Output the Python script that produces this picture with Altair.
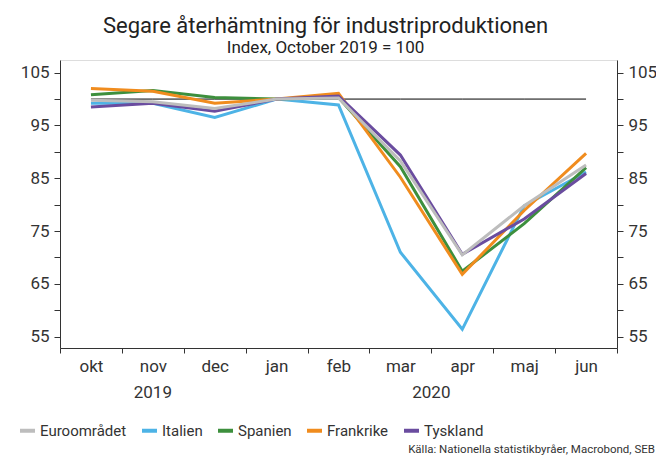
import altair as alt
import pandas as pd

months = ["okt", "nov", "dec", "jan", "feb", "mar", "apr", "maj", "jun"]
series_names = ["Euroområdet", "Italien", "Spanien", "Frankrike", "Tyskland"]
colors = ["#bdbdbd", "#4db3e6", "#3d8f3d", "#f08c1e", "#6a4c9f"]

euro = [99.8, 99.5, 98.2, 100.0, 100.2, 88.3, 70.5, 79.8, 87.5]
italien = [99.2, 99.2, 96.5, 100.0, 98.9, 71.0, 56.4, 79.8, 86.2]
spanien = [100.8, 101.6, 100.3, 100.0, 100.3, 87.2, 67.4, 76.4, 87.0]
frankrike = [102.0, 101.5, 99.2, 100.0, 101.1, 85.2, 66.8, 78.9, 89.7]
tyskland = [98.5, 99.2, 97.7, 100.0, 100.6, 89.4, 70.6, 77.3, 85.9]
reference = [100] * 9

years = ["2019", "2020"]
year_month = ["nov", "mar"]

title = "Segare återhämtning för industriproduktionen"
subtitle = "Index, October 2019 = 100"
source = "Källa: Nationella statistikbyråer, Macrobond, SEB"

FONT = "Roboto"
TXT = "#333333"

values_by_series = {
    "Euroområdet": euro,
    "Italien": italien,
    "Spanien": spanien,
    "Frankrike": frankrike,
    "Tyskland": tyskland,
}
draw_order = ["Italien", "Spanien", "Frankrike", "Tyskland", "Euroområdet"]
rows = []
for s in draw_order:
    for m, v in zip(months, values_by_series[s]):
        rows.append({"month": m, "series": s, "value": v})
df = pd.DataFrame(rows)
ref_df = pd.DataFrame({"month": months, "value": reference})

W, H = 557, 288
ydom = [52.86, 107.4]
tick_vals = [55, 60, 65, 70, 75, 80, 85, 90, 95, 100, 105]
label_expr = "datum.value % 10 == 5 ? datum.label : ''"

xenc = alt.X(
    "month:N",
    sort=months,
    scale=alt.Scale(domain=months, paddingInner=0, paddingOuter=0),
    axis=alt.Axis(
        title=None, tickBand="extent", labelAngle=0, labelFontSize=17,
        labelFont=FONT, labelColor=TXT, labelPadding=5, tickSize=5,
        domainColor=TXT, tickColor=TXT, grid=False,
    ),
)

def yaxis(orient):
    return alt.Axis(
        orient=orient, title=None, values=tick_vals, labelExpr=label_expr,
        labelFontSize=17, labelFont=FONT, labelColor=TXT, tickSize=6,
        labelPadding=5, domainColor=TXT, tickColor=TXT, grid=False,
    )

ref_line = alt.Chart(ref_df).mark_line(color="#000000", strokeWidth=1).encode(
    x=xenc,
    y=alt.Y("value:Q", scale=alt.Scale(domain=ydom, nice=False, zero=False), axis=yaxis("right")),
)

lines = alt.Chart(df).mark_line(strokeWidth=3).encode(
    x=xenc,
    y=alt.Y("value:Q", scale=alt.Scale(domain=ydom, nice=False, zero=False), axis=yaxis("left")),
    color=alt.Color(
        "series:N",
        scale=alt.Scale(domain=series_names, range=colors),
        legend=alt.Legend(
            title=None, orient="none", legendX=-42, legendY=361, direction="horizontal",
            columns=5, symbolType="stroke", symbolSize=225, symbolStrokeWidth=4,
            labelFontSize=15, labelFont=FONT, labelColor=TXT, labelOffset=3,
            columnPadding=7,
        ),
    ),
)

year_df = pd.DataFrame({"month": year_month, "year": years})
year1 = alt.Chart(year_df.iloc[[0]]).mark_text(fontSize=17, font=FONT, color=TXT, baseline="middle").encode(
    x=alt.X("month:N", sort=months, bandPosition=0.5, scale=alt.Scale(domain=months, paddingInner=0, paddingOuter=0)),
    y=alt.value(H + 45),
    text="year:N",
)
year2 = alt.Chart(year_df.iloc[[1]]).mark_text(fontSize=17, font=FONT, color=TXT, baseline="middle").encode(
    x=alt.X("month:N", sort=months, bandPosition=1.0, scale=alt.Scale(domain=months, paddingInner=0, paddingOuter=0)),
    y=alt.value(H + 45),
    text="year:N",
)

src = alt.Chart(pd.DataFrame({"t": [source]})).mark_text(
    fontSize=11.5, font=FONT, color=TXT, align="right", baseline="alphabetic"
).encode(x=alt.value(595), y=alt.value(393), text="t:N")

chart = (
    alt.layer(ref_line, lines, year1, year2, src)
    .resolve_scale(y="independent")
    .properties(
        width=W,
        height=H,
        autosize=alt.AutoSizeParams(type="none"),
        padding={"left": 52, "top": 52, "right": 39, "bottom": 109},
        title=alt.Title(
            title, subtitle=subtitle, anchor="middle", fontSize=22, subtitleFontSize=17,
            font=FONT, subtitleFont=FONT, fontWeight="normal", color="#222222",
            subtitleColor="#222222", offset=3, dx=-13, subtitlePadding=2,
            subtitleFontWeight="normal",
        ),
    )
    .configure_view(stroke=None)
    .configure(background="white")
)

chart.save("out.html", embed_options={"renderer": "svg", "actions": False})
